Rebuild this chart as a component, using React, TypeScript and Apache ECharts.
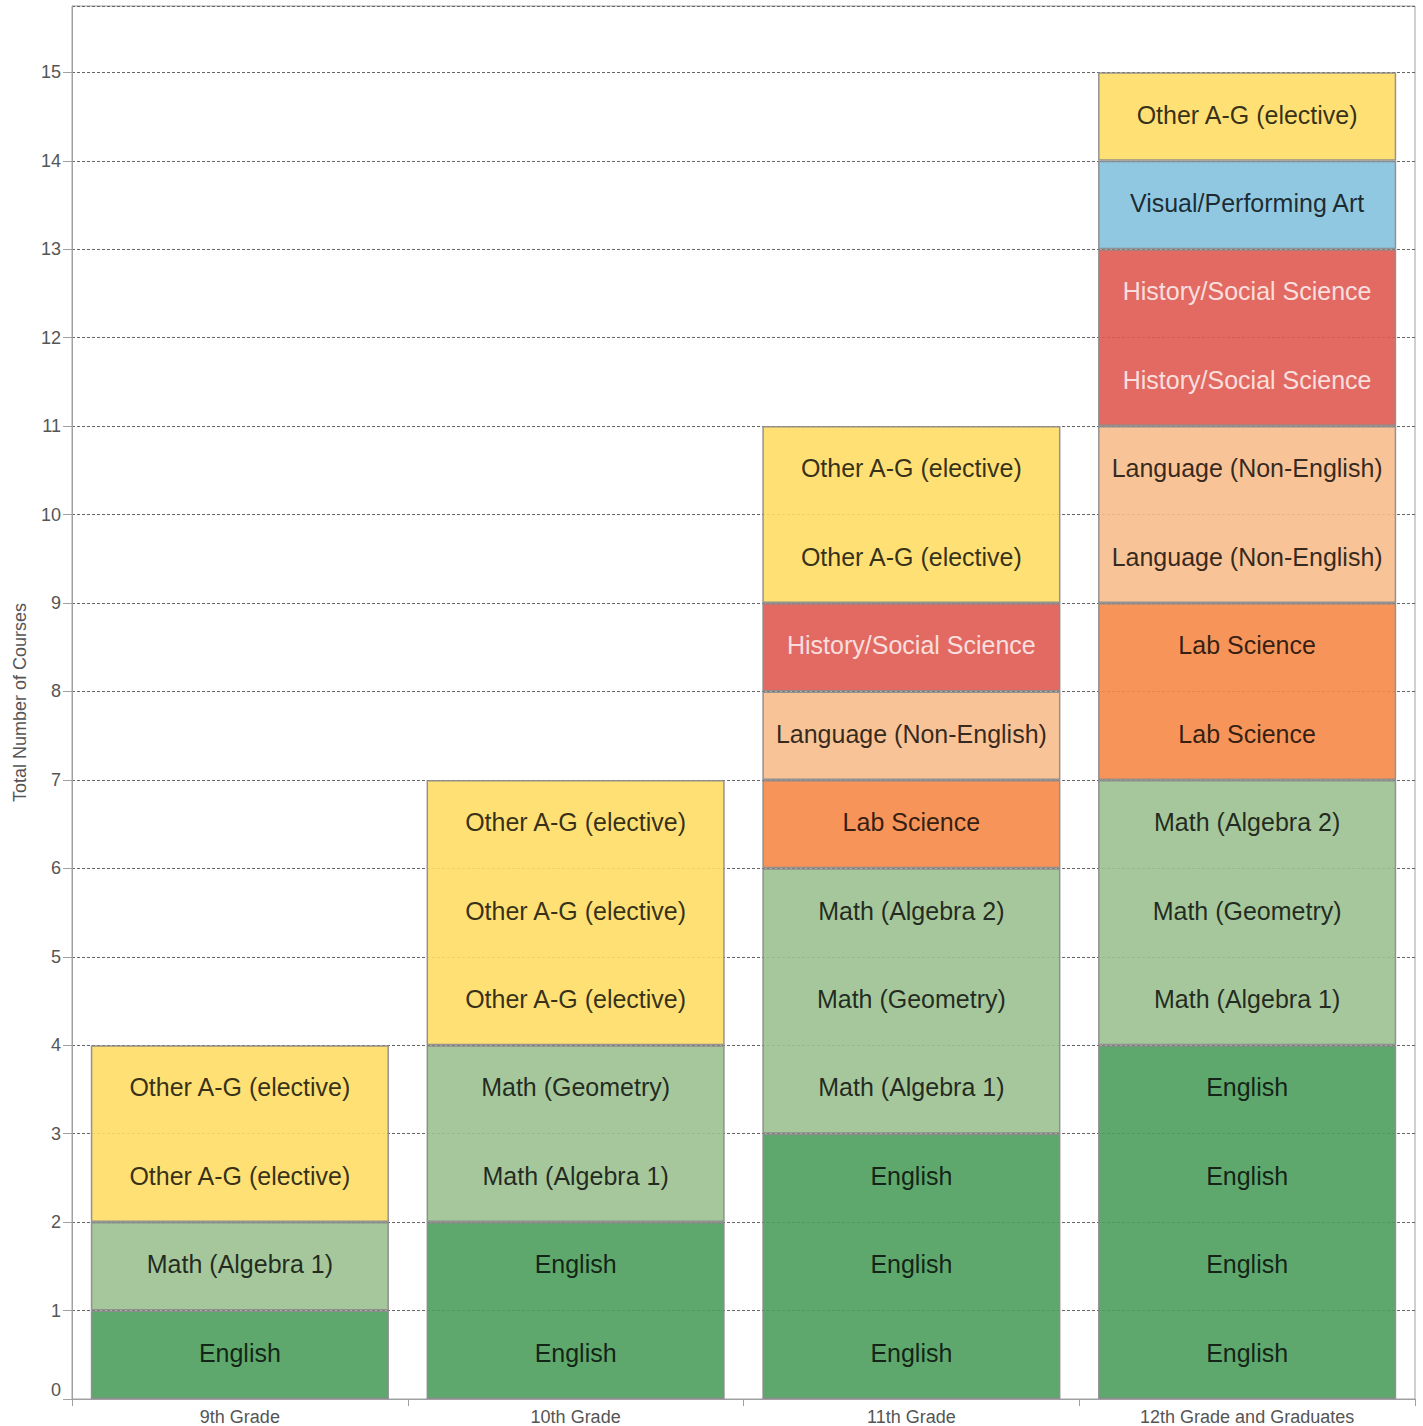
import React, { useEffect, useRef } from "react";
import * as echarts from "echarts";

const grades = ["9th Grade", "10th Grade", "11th Grade", "12th Grade and Graduates"];

// Course counts per subject area, per grade (bottom to top of each stack)
const english = [1, 2, 3, 4];
const math = [1, 2, 3, 3];
const labScience = [0, 0, 1, 2];
const language = [0, 0, 1, 2];
const history = [0, 0, 1, 2];
const visualArt = [0, 0, 0, 1];
const otherAG = [2, 3, 2, 1];

// Per-course labels, bottom to top
const labels9 = ["English", "Math (Algebra 1)", "Other A-G (elective)", "Other A-G (elective)"];
const labels10 = [
  "English", "English", "Math (Algebra 1)", "Math (Geometry)",
  "Other A-G (elective)", "Other A-G (elective)", "Other A-G (elective)",
];
const labels11 = [
  "English", "English", "English", "Math (Algebra 1)", "Math (Geometry)", "Math (Algebra 2)",
  "Lab Science", "Language (Non-English)", "History/Social Science",
  "Other A-G (elective)", "Other A-G (elective)",
];
const labels12 = [
  "English", "English", "English", "English", "Math (Algebra 1)", "Math (Geometry)", "Math (Algebra 2)",
  "Lab Science", "Lab Science", "Language (Non-English)", "Language (Non-English)",
  "History/Social Science", "History/Social Science", "Visual/Performing Art", "Other A-G (elective)",
];

const yTicks = [0, 15.75];

const seriesDefs = [
  { name: "English", data: english, color: "#4d9e5d" },
  { name: "Math", data: math, color: "#9bc190" },
  { name: "Lab Science", data: labScience, color: "#f68848" },
  { name: "Language (Non-English)", data: language, color: "#f7bc8b" },
  { name: "History/Social Science", data: history, color: "#df5a51" },
  { name: "Visual/Performing Art", data: visualArt, color: "#84c2df" },
  { name: "Other A-G (elective)", data: otherAG, color: "#fedd65" },
];

export default function App() {
  const ref = useRef<HTMLDivElement>(null);
  useEffect(() => {
    document.body.style.margin = "0";
    const chart = echarts.init(ref.current!, undefined, { renderer: "svg" });
    const allLabels = [labels9, labels10, labels11, labels12];
    const labelData: any[] = [];
    allLabels.forEach((list, gi) => {
      list.forEach((txt, k) => {
        labelData.push({
          value: [gi, k + 0.5],
          name: txt,
          label: { color: txt === "History/Social Science" ? "#ffffff" : "#000000" },
        });
      });
    });
    const font = "'Liberation Sans', Arial, sans-serif";
    chart.setOption({
      animation: false,
      textStyle: { fontFamily: font },
      grid: {
        left: 72,
        right: 8,
        top: 6,
        bottom: 26,
        show: true,
        borderColor: "#a0a0a0",
        borderWidth: 1,
      },
      xAxis: {
        type: "category",
        data: grades,
        axisLine: { lineStyle: { color: "#a0a0a0", width: 1 } },
        axisTick: { show: true, length: 7, lineStyle: { color: "#a0a0a0" } },
        axisLabel: { color: "#555", fontSize: 18, margin: 9, fontFamily: font },
        splitLine: { show: false },
      },
      yAxis: {
        type: "value",
        min: yTicks[0],
        max: yTicks[1],
        interval: 1,
        name: "Total Number of Courses",
        nameLocation: "middle",
        nameGap: 43,
        nameTextStyle: { color: "#555", fontSize: 18, fontFamily: font },
        axisLine: { show: true, lineStyle: { color: "#a0a0a0" } },
        axisTick: { show: true, length: 9, lineStyle: { color: "#a0a0a0" } },
        axisLabel: {
          color: "#555",
          fontSize: 18,
          margin: 11,
          fontFamily: font,
          showMaxLabel: false,
          verticalAlignMinLabel: "bottom",
          formatter: (v: number) => (Number.isInteger(v) ? String(v) : ""),
        },
        splitLine: { show: true, lineStyle: { color: "#666", width: 1, type: [3, 2] } },
      },
      series: [
        ...seriesDefs.map((s) => ({
          type: "bar",
          name: s.name,
          stack: "total",
          barCategoryGap: "11.2%",
          data: s.data.map((v) => (v === 0 ? "-" : v)),
          itemStyle: { color: s.color, borderColor: "#8a8a8a", borderWidth: 1.5, opacity: 0.9 },
          emphasis: { disabled: true },
        })),
        {
          type: "scatter",
          data: labelData,
          symbolSize: 1,
          itemStyle: { color: "rgba(0,0,0,0)" },
          z: 10,
          label: {
            show: true,
            position: "inside",
            offset: [0, -2],
            formatter: (p: any) => p.name,
            fontSize: 25,
            fontFamily: font,
          },
          emphasis: { disabled: true },
        },
      ],
    });
    return () => chart.dispose();
  }, []);
  return <div ref={ref} style={{ width: 1423, height: 1426 }} />;
}
